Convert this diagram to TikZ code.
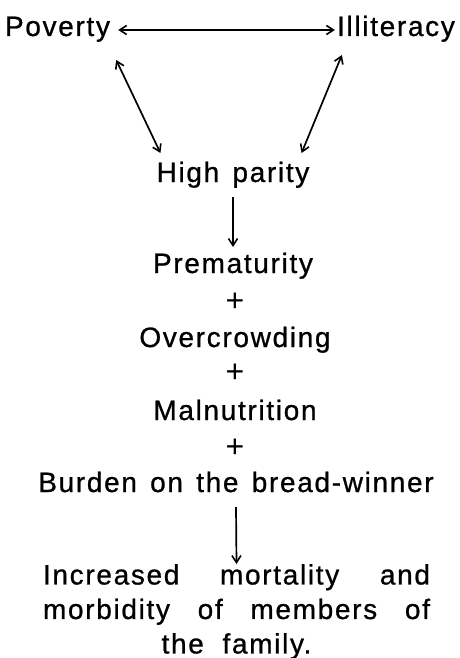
\documentclass[tikz,border=0pt]{standalone}
\usepackage{fontspec}
\setmainfont{Liberation Sans}[LetterSpace=6,WordSpace=1.4,FakeBold=0.8]
\newfontfamily\plusfont{Liberation Sans}
\usetikzlibrary{arrows.meta}
\begin{document}
\begin{tikzpicture}[x=1pt,y=-1pt,
  lbl/.style={inner sep=0pt, anchor=base, font=\fontsize{28}{34.5}\selectfont},
  plus/.style={inner sep=0pt, font=\plusfont\fontsize{32}{32}\selectfont},
  tip/.tip={Straight Barb[length=7pt,width=9pt,line width=1.6pt]},
  arr/.style={line width=1.7pt, -tip},
  darr/.style={line width=1.7pt, tip-tip}]
\useasboundingbox (0,0) rectangle (459,658);
\node[lbl] (pov) at (57.5,36) {Poverty};
\node[lbl] (ill) at (396,36) {Illiteracy};
\node[lbl] (hp) at (233,182) {High parity};
\node[lbl] (prem) at (233,273) {Prematurity};
\node[plus] (p1) at (235,302) {+};
\node[lbl] (over) at (235,347) {Overcrowding};
\node[plus] (p2) at (235,373) {+};
\node[lbl] (maln) at (235,420) {Malnutrition};
\node[plus] (p3) at (235,448) {+};
\node[lbl] (burd) at (236,492) {Burden on the bread-winner};
\node[lbl, anchor=north, align=center, text width=390pt] (res) at (236.5,564)
  {\makebox[387pt]{Increased\hfill mortality\hfill and}\\
   \makebox[387pt]{morbidity\hfill of\hfill members\hfill of}\\
   the\ \ family.};
\draw[darr] ([xshift=8pt,yshift=6pt]pov.base east) -- ([xshift=-2pt,yshift=6pt]ill.base west);
\draw[darr] ([xshift=6pt,yshift=-24pt]pov.base east) -- ([xshift=4pt,yshift=29pt]hp.base west);
\draw[darr] ([xshift=5pt,yshift=-19pt]ill.base west) -- ([xshift=-8pt,yshift=29pt]hp.base east);
\draw[arr] ([yshift=-15pt]hp.base) -- ([yshift=26pt]prem.base);
\draw[arr] ([yshift=-15pt]burd.base) -- (res.north);
\end{tikzpicture}
\end{document}
